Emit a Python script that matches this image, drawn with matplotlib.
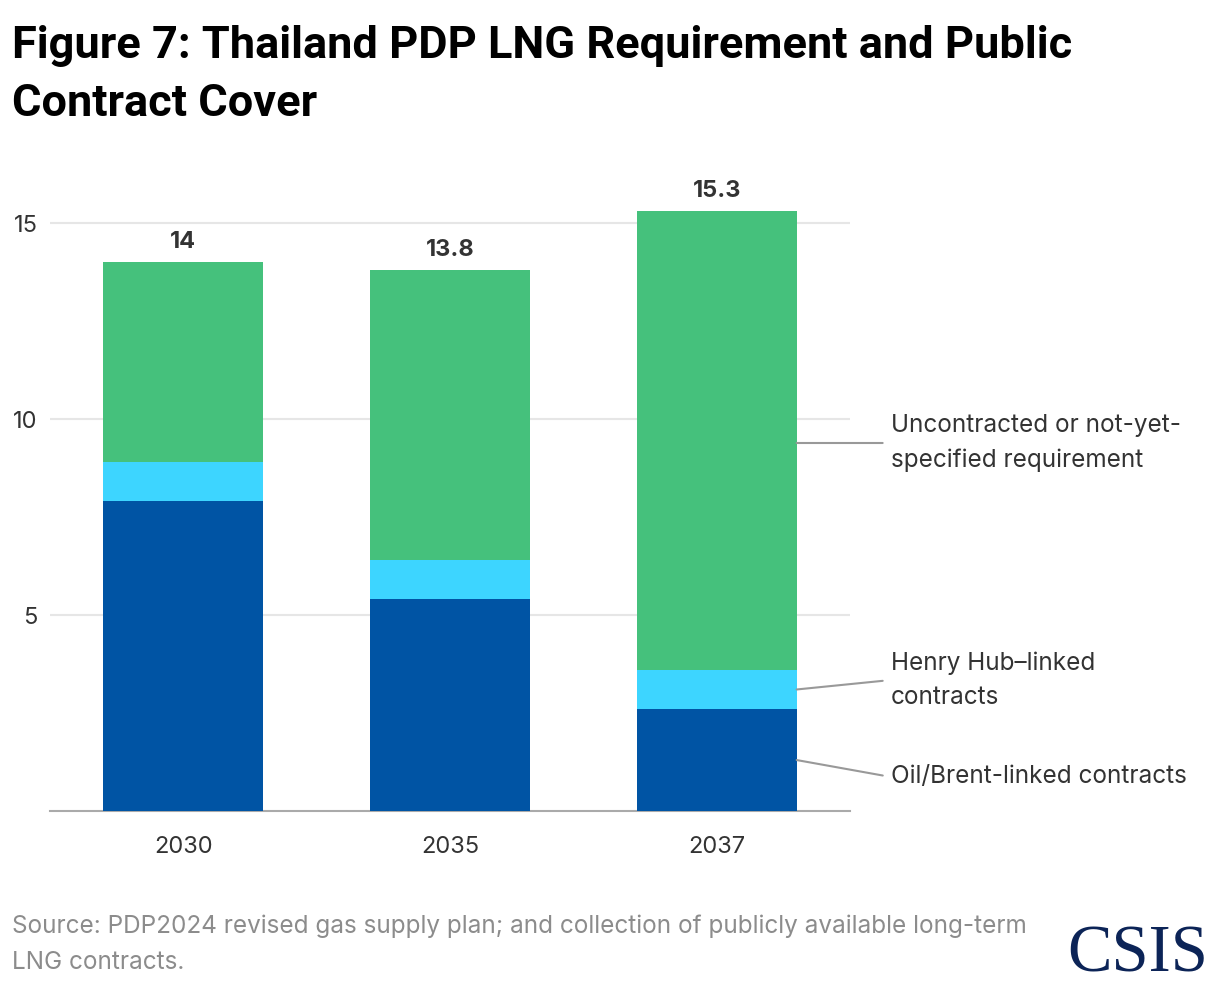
import matplotlib
matplotlib.use("Agg")
import matplotlib.pyplot as plt
import numpy as np

years = ["2030", "2035", "2037"]
oil_brent = [7.9, 5.4, 2.6]
henry_hub = [1.0, 1.0, 1.0]
totals = [14.0, 13.8, 15.3]
uncontracted = [t - o - h for t, o, h in zip(totals, oil_brent, henry_hub)]
total_labels = ["14", "13.8", "15.3"]
yticks = [5, 10, 15]
series_labels = ["Oil/Brent-linked contracts", "Henry Hub\u2013linked\ncontracts",
                 "Uncontracted or not-yet-\nspecified requirement"]
title_lines = ["Figure 7: Thailand PDP LNG Requirement and Public", "Contract Cover"]
source_lines = ["Source: PDP2024 revised gas supply plan; and collection of publicly available long-term",
                "LNG contracts."]

C_OIL = "#0054A4"
C_HH = "#3DD5FF"
C_UN = "#45C17C"
TXT = "#333333"

plt.rcParams['font.family'] = ['Inter', 'DejaVu Sans']

W, H = 1220, 986
fig = plt.figure(figsize=(W / 100, H / 100), dpi=100)
ax = fig.add_axes([50 / W, 1 - 811 / H, 800 / W, (811 - 160) / H])
PX = 39.2  # pixels per data unit

x = np.arange(len(years))
bw = 0.6
ax.bar(x, oil_brent, bw, color=C_OIL, zorder=3)
ax.bar(x, henry_hub, bw, bottom=oil_brent, color=C_HH, zorder=3)
bottoms = [o + h for o, h in zip(oil_brent, henry_hub)]
ax.bar(x, uncontracted, bw, bottom=bottoms, color=C_UN, zorder=3)

for xi, t, lab in zip(x, totals, total_labels):
    ax.annotate(lab, (xi, t), xytext=(0, 6.5), textcoords="offset points",
                ha="center", va="bottom", fontsize=17, fontweight="bold", color=TXT)

ax.set_xlim(-0.5, 2.5)
ax.set_ylim(0, (811 - 160) / PX)
ax.set_yticks(yticks)
ax.set_xticks(x)
ax.set_xticklabels(years)
ax.tick_params(axis="both", length=0, labelsize=17, labelcolor=TXT)
ax.tick_params(axis="y", pad=9)
ax.tick_params(axis="x", pad=18)
ax.grid(axis="y", color="#e6e6e6", linewidth=1.5, zorder=0)
for s in ["top", "right", "left"]:
    ax.spines[s].set_visible(False)
ax.spines["bottom"].set_color("#aaaaaa")
ax.spines["bottom"].set_linewidth(1.5)

# Direct labels on the last bar
last = len(years) - 1
xr = last + bw / 2
anchor_y = [oil_brent[last] / 2,
            oil_brent[last] + henry_hub[last] / 2,
            (811 - 443) / PX]
text_y = [(811 - 777) / PX, (811 - 680) / PX, (811 - 443) / PX]
x_txt = 2.5 + 41 / 266.7
for m, ty, lab in zip(anchor_y, text_y, series_labels):
    ax.annotate(lab, xy=(xr, m), xytext=(x_txt, ty), textcoords="data",
                ha="left", va="center", fontsize=17.5, color=TXT,
                linespacing=1.62, annotation_clip=False,
                arrowprops=dict(arrowstyle="-", color="#999999", lw=1.5,
                                shrinkA=4, shrinkB=0, relpos=(0, 0.5)))

for i, (line, yb) in enumerate(zip(title_lines, [58, 116])):
    fig.text(12 / W, 1 - yb / H, line, fontsize=32.5, fontweight="bold", color="#000000",
             ha="left", va="baseline", family=["Roboto", "DejaVu Sans"])

for line, yb in zip(source_lines, [933, 969]):
    fig.text(12 / W, 1 - yb / H, line, fontsize=17.5, color="#8c8c8c",
             ha="left", va="baseline")

fig.text(1208 / W, 1 - 971 / H, "CSIS", fontsize=48, color="#0C2457", ha="right",
         va="baseline", family=["Liberation Serif", "DejaVu Serif"])

fig.savefig("out.png", dpi=100)
